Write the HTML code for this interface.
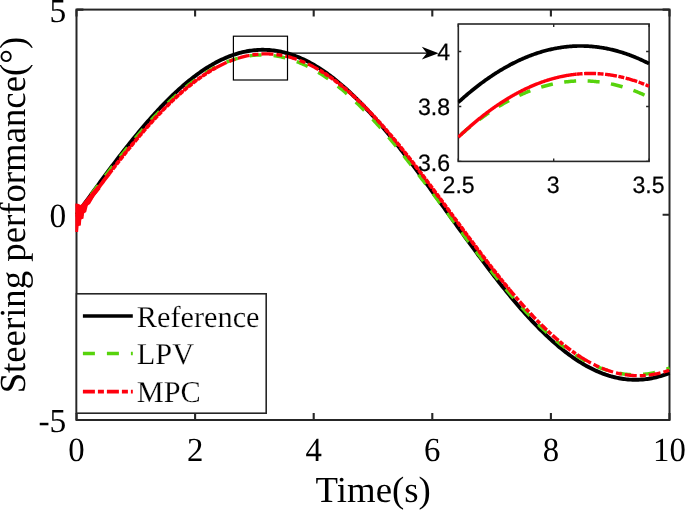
<!DOCTYPE html>
<html><head><meta charset="utf-8"><title>Steering performance</title>
<style>html,body{margin:0;padding:0;background:#fff;}body{width:685px;height:510px;overflow:hidden;font-family:"Liberation Sans",sans-serif;}svg{display:block;will-change:transform;}text{text-rendering:geometricPrecision;}</style>
</head><body>
<svg width="685" height="510" viewBox="0 0 685 510">
<rect x="0" y="0" width="685" height="510" fill="#fff"/>
<rect x="76.50" y="9.60" width="593.00" height="410.40" fill="none" stroke="#262626" stroke-width="2"/>
<path d="M76.50,420.00 v-6.90 M76.50,9.60 v6.90 M195.10,420.00 v-6.90 M195.10,9.60 v6.90 M313.70,420.00 v-6.90 M313.70,9.60 v6.90 M432.30,420.00 v-6.90 M432.30,9.60 v6.90 M550.90,420.00 v-6.90 M550.90,9.60 v6.90 M669.50,420.00 v-6.90 M669.50,9.60 v6.90 M76.50,420.00 h6.90 M669.50,420.00 h-6.90 M76.50,214.80 h6.90 M669.50,214.80 h-6.90 M76.50,9.60 h6.90 M669.50,9.60 h-6.90" stroke="#262626" stroke-width="2.1" fill="none"/>
<g font-family="Liberation Serif, serif" font-size="33.8px" fill="#000">
<text transform="translate(76.50,461.0) scale(0.97,1)" text-anchor="middle">0</text>
<text transform="translate(195.10,461.0) scale(0.97,1)" text-anchor="middle">2</text>
<text transform="translate(313.70,461.0) scale(0.97,1)" text-anchor="middle">4</text>
<text transform="translate(432.30,461.0) scale(0.97,1)" text-anchor="middle">6</text>
<text transform="translate(550.90,461.0) scale(0.97,1)" text-anchor="middle">8</text>
<text transform="translate(669.50,461.0) scale(0.97,1)" text-anchor="middle">10</text>
<text transform="translate(66.3,432.30) scale(0.99,1)" text-anchor="end">-5</text>
<text transform="translate(66.3,227.10) scale(0.99,1)" text-anchor="end">0</text>
<text transform="translate(66.3,21.90) scale(0.99,1)" text-anchor="end">5</text>
</g>
<text transform="translate(373.2,501.8)" text-anchor="middle" font-family="Liberation Serif, serif" font-size="36.8px" fill="#000">Time(s)</text>
<text transform="translate(25.2,215.1) rotate(-90)" text-anchor="middle" font-family="Liberation Serif, serif" font-size="36.75px" fill="#000">Steering performance(°)</text>
<path d="M76.50,214.80 L77.98,212.74 L79.47,210.68 L80.95,208.61 L82.43,206.55 L83.91,204.50 L85.39,202.44 L86.88,200.38 L88.36,198.33 L89.84,196.28 L91.33,194.23 L92.81,192.19 L94.29,190.15 L95.77,188.11 L97.25,186.08 L98.74,184.05 L100.22,182.02 L101.70,180.00 L103.19,177.99 L104.67,175.98 L106.15,173.98 L107.63,171.99 L109.12,170.00 L110.60,168.02 L112.08,166.04 L113.56,164.08 L115.05,162.12 L116.53,160.17 L118.01,158.23 L119.49,156.30 L120.97,154.37 L122.46,152.46 L123.94,150.55 L125.42,148.66 L126.91,146.77 L128.39,144.90 L129.87,143.04 L131.35,141.19 L132.84,139.35 L134.32,137.52 L135.80,135.70 L137.28,133.90 L138.76,132.11 L140.25,130.33 L141.73,128.57 L143.21,126.82 L144.69,125.08 L146.18,123.35 L147.66,121.64 L149.14,119.95 L150.62,118.27 L152.11,116.61 L153.59,114.96 L155.07,113.32 L156.56,111.70 L158.04,110.10 L159.52,108.52 L161.00,106.95 L162.49,105.40 L163.97,103.86 L165.45,102.34 L166.93,100.84 L168.41,99.36 L169.90,97.90 L171.38,96.45 L172.86,95.02 L174.34,93.61 L175.83,92.22 L177.31,90.85 L178.79,89.50 L180.28,88.17 L181.76,86.86 L183.24,85.57 L184.72,84.29 L186.20,83.04 L187.69,81.81 L189.17,80.60 L190.65,79.41 L192.13,78.25 L193.62,77.10 L195.10,75.97 L196.58,74.87 L198.06,73.79 L199.55,72.73 L201.03,71.69 L202.51,70.68 L204.00,69.68 L205.48,68.71 L206.96,67.77 L208.44,66.84 L209.93,65.94 L211.41,65.07 L212.89,64.21 L214.37,63.38 L215.85,62.57 L217.34,61.79 L218.82,61.03 L220.30,60.30 L221.79,59.59 L223.27,58.90 L224.75,58.24 L226.23,57.60 L227.71,56.98 L229.20,56.40 L230.68,55.83 L232.16,55.29 L233.65,54.78 L235.13,54.29 L236.61,53.82 L238.09,53.39 L239.57,52.97 L241.06,52.58 L242.54,52.22 L244.02,51.88 L245.50,51.57 L246.99,51.28 L248.47,51.02 L249.95,50.79 L251.44,50.58 L252.92,50.39 L254.40,50.23 L255.88,50.10 L257.37,49.99 L258.85,49.91 L260.33,49.85 L261.81,49.82 L263.30,49.82 L264.78,49.84 L266.26,49.89 L267.74,49.96 L269.23,50.06 L270.71,50.19 L272.19,50.34 L273.67,50.51 L275.15,50.71 L276.64,50.94 L278.12,51.19 L279.60,51.47 L281.09,51.78 L282.57,52.11 L284.05,52.46 L285.53,52.84 L287.01,53.25 L288.50,53.68 L289.98,54.13 L291.46,54.61 L292.94,55.12 L294.43,55.65 L295.91,56.21 L297.39,56.79 L298.88,57.39 L300.36,58.02 L301.84,58.68 L303.32,59.36 L304.81,60.06 L306.29,60.79 L307.77,61.54 L309.25,62.31 L310.74,63.11 L312.22,63.94 L313.70,64.78 L315.18,65.65 L316.67,66.55 L318.15,67.46 L319.63,68.40 L321.11,69.36 L322.60,70.35 L324.08,71.36 L325.56,72.39 L327.04,73.44 L328.52,74.51 L330.01,75.61 L331.49,76.73 L332.97,77.87 L334.45,79.03 L335.94,80.21 L337.42,81.41 L338.90,82.64 L340.38,83.88 L341.87,85.15 L343.35,86.43 L344.83,87.74 L346.31,89.06 L347.80,90.41 L349.28,91.77 L350.76,93.16 L352.25,94.56 L353.73,95.98 L355.21,97.42 L356.69,98.88 L358.18,100.36 L359.66,101.85 L361.14,103.36 L362.62,104.89 L364.10,106.44 L365.59,108.00 L367.07,109.58 L368.55,111.18 L370.03,112.79 L371.52,114.42 L373.00,116.06 L374.48,117.72 L375.97,119.40 L377.45,121.09 L378.93,122.79 L380.41,124.51 L381.90,126.24 L383.38,127.99 L384.86,129.75 L386.34,131.53 L387.82,133.31 L389.31,135.11 L390.79,136.92 L392.27,138.75 L393.75,140.58 L395.24,142.43 L396.72,144.29 L398.20,146.16 L399.69,148.04 L401.17,149.93 L402.65,151.83 L404.13,153.74 L405.62,155.66 L407.10,157.59 L408.58,159.53 L410.06,161.48 L411.55,163.44 L413.03,165.40 L414.51,167.37 L415.99,169.35 L417.48,171.34 L418.96,173.33 L420.44,175.33 L421.92,177.33 L423.40,179.35 L424.89,181.36 L426.37,183.38 L427.85,185.41 L429.33,187.44 L430.82,189.48 L432.30,191.52 L433.78,193.56 L435.26,195.61 L436.75,197.66 L438.23,199.71 L439.71,201.76 L441.20,203.82 L442.68,205.88 L444.16,207.94 L445.64,210.00 L447.12,212.06 L448.61,214.12 L450.09,216.19 L451.57,218.25 L453.05,220.31 L454.54,222.37 L456.02,224.43 L457.50,226.49 L458.99,228.54 L460.47,230.60 L461.95,232.65 L463.43,234.70 L464.92,236.74 L466.40,238.79 L467.88,240.83 L469.36,242.86 L470.85,244.89 L472.33,246.91 L473.81,248.93 L475.29,250.95 L476.77,252.96 L478.26,254.96 L479.74,256.96 L481.22,258.95 L482.70,260.93 L484.19,262.91 L485.67,264.88 L487.15,266.84 L488.64,268.79 L490.12,270.74 L491.60,272.67 L493.08,274.60 L494.56,276.52 L496.05,278.42 L497.53,280.32 L499.01,282.21 L500.50,284.09 L501.98,285.95 L503.46,287.81 L504.94,289.65 L506.43,291.48 L507.91,293.30 L509.39,295.11 L510.87,296.91 L512.36,298.69 L513.84,300.46 L515.32,302.21 L516.80,303.95 L518.29,305.68 L519.77,307.40 L521.25,309.10 L522.73,310.78 L524.21,312.45 L525.70,314.11 L527.18,315.74 L528.66,317.37 L530.14,318.98 L531.63,320.57 L533.11,322.14 L534.59,323.70 L536.08,325.24 L537.56,326.76 L539.04,328.27 L540.52,329.76 L542.00,331.23 L543.49,332.68 L544.97,334.11 L546.45,335.53 L547.94,336.92 L549.42,338.30 L550.90,339.66 L552.38,341.00 L553.87,342.31 L555.35,343.61 L556.83,344.89 L558.31,346.15 L559.79,347.39 L561.28,348.60 L562.76,349.80 L564.24,350.97 L565.73,352.13 L567.21,353.26 L568.69,354.37 L570.17,355.46 L571.65,356.53 L573.14,357.57 L574.62,358.59 L576.10,359.59 L577.58,360.57 L579.07,361.52 L580.55,362.46 L582.03,363.36 L583.52,364.25 L585.00,365.11 L586.48,365.95 L587.96,366.76 L589.44,367.56 L590.93,368.32 L592.41,369.07 L593.89,369.78 L595.38,370.48 L596.86,371.15 L598.34,371.80 L599.82,372.42 L601.31,373.01 L602.79,373.59 L604.27,374.13 L605.75,374.66 L607.23,375.15 L608.72,375.63 L610.20,376.07 L611.68,376.50 L613.17,376.89 L614.65,377.26 L616.13,377.61 L617.61,377.93 L619.10,378.23 L620.58,378.50 L622.06,378.74 L623.54,378.96 L625.02,379.15 L626.51,379.32 L627.99,379.46 L629.47,379.58 L630.96,379.67 L632.44,379.73 L633.92,379.77 L635.40,379.78 L636.88,379.77 L638.37,379.73 L639.85,379.66 L641.33,379.57 L642.82,379.46 L644.30,379.32 L645.78,379.15 L647.26,378.95 L648.75,378.74 L650.23,378.49 L651.71,378.22 L653.19,377.93 L654.67,377.60 L656.16,377.26 L657.64,376.89 L659.12,376.49 L660.61,376.07 L662.09,375.62 L663.57,375.15 L665.05,374.65 L666.53,374.12 L668.02,373.58 L669.50,373.00" stroke="#000" stroke-width="3.9" fill="none" stroke-linejoin="round"/>
<path d="M76.50,214.16 L77.98,212.16 L79.47,210.16 L80.95,208.17 L82.43,206.17 L83.91,204.18 L85.39,202.18 L86.88,200.19 L88.36,198.20 L89.84,196.21 L91.33,194.23 L92.81,192.25 L94.29,190.27 L95.77,188.30 L97.25,186.33 L98.74,184.37 L100.22,182.41 L101.70,180.45 L103.19,178.50 L104.67,176.56 L106.15,174.62 L107.63,172.69 L109.12,170.77 L110.60,168.85 L112.08,166.94 L113.56,165.03 L115.05,163.14 L116.53,161.25 L118.01,159.37 L119.49,157.50 L120.97,155.64 L122.46,153.79 L123.94,151.95 L125.42,150.11 L126.91,148.29 L128.39,146.48 L129.87,144.68 L131.35,142.89 L132.84,141.11 L134.32,139.34 L135.80,137.58 L137.28,135.84 L138.76,134.11 L140.25,132.39 L141.73,130.68 L143.21,128.99 L144.69,127.31 L146.18,125.64 L147.66,123.99 L149.14,122.35 L150.62,120.73 L152.11,119.12 L153.59,117.53 L155.07,115.95 L156.56,114.39 L158.04,112.84 L159.52,111.31 L161.00,109.79 L162.49,108.29 L163.97,106.81 L165.45,105.34 L166.93,103.90 L168.41,102.47 L169.90,101.05 L171.38,99.66 L172.86,98.28 L174.34,96.92 L175.83,95.58 L177.31,94.26 L178.79,92.95 L180.28,91.67 L181.76,90.40 L183.24,89.16 L184.72,87.93 L186.20,86.72 L187.69,85.54 L189.17,84.37 L190.65,83.22 L192.13,82.10 L193.62,80.99 L195.10,79.91 L196.58,78.85 L198.06,77.81 L199.55,76.79 L201.03,75.79 L202.51,74.81 L204.00,73.86 L205.48,72.92 L206.96,72.01 L208.44,71.13 L209.93,70.26 L211.41,69.42 L212.89,68.60 L214.37,67.80 L215.85,67.02 L217.34,66.27 L218.82,65.54 L220.30,64.84 L221.79,64.16 L223.27,63.50 L224.75,62.86 L226.23,62.25 L227.71,61.67 L229.20,61.10 L230.68,60.57 L232.16,60.05 L233.65,59.56 L235.13,59.09 L236.61,58.65 L238.09,58.23 L239.57,57.84 L241.06,57.47 L242.54,57.13 L244.02,56.81 L245.50,56.51 L246.99,56.24 L248.47,56.00 L249.95,55.78 L251.44,55.58 L252.92,55.41 L254.40,55.26 L255.88,55.14 L257.37,55.05 L258.85,54.98 L260.33,54.93 L261.81,54.91 L263.30,54.91 L264.78,54.94 L266.26,55.00 L267.74,55.08 L269.23,55.18 L270.71,55.31 L272.19,55.46 L273.67,55.64 L275.15,55.84 L276.64,56.07 L278.12,56.32 L279.60,56.60 L281.09,56.90 L282.57,57.23 L284.05,57.58 L285.53,57.96 L287.01,58.36 L288.50,58.79 L289.98,59.24 L291.46,59.71 L292.94,60.21 L294.43,60.73 L295.91,61.28 L297.39,61.85 L298.88,62.44 L300.36,63.06 L301.84,63.70 L303.32,64.37 L304.81,65.06 L306.29,65.77 L307.77,66.50 L309.25,67.26 L310.74,68.05 L312.22,68.85 L313.70,69.68 L315.18,70.53 L316.67,71.40 L318.15,72.30 L319.63,73.21 L321.11,74.15 L322.60,75.12 L324.08,76.10 L325.56,77.10 L327.04,78.13 L328.52,79.18 L330.01,80.25 L331.49,81.34 L332.97,82.45 L334.45,83.58 L335.94,84.73 L337.42,85.91 L338.90,87.10 L340.38,88.31 L341.87,89.54 L343.35,90.80 L344.83,92.07 L346.31,93.36 L347.80,94.67 L349.28,95.99 L350.76,97.34 L352.25,98.71 L353.73,100.09 L355.21,101.49 L356.69,102.91 L358.18,104.35 L359.66,105.80 L361.14,107.27 L362.62,108.76 L364.10,110.26 L365.59,111.78 L367.07,113.32 L368.55,114.87 L370.03,116.44 L371.52,118.02 L373.00,119.62 L374.48,121.24 L375.97,122.86 L377.45,124.51 L378.93,126.16 L380.41,127.83 L381.90,129.52 L383.38,131.21 L384.86,132.92 L386.34,134.65 L387.82,136.38 L389.31,138.13 L390.79,139.89 L392.27,141.66 L393.75,143.45 L395.24,145.24 L396.72,147.04 L398.20,148.86 L399.69,150.69 L401.17,152.52 L402.65,154.37 L404.13,156.22 L405.62,158.09 L407.10,159.96 L408.58,161.84 L410.06,163.73 L411.55,165.63 L413.03,167.53 L414.51,169.45 L415.99,171.37 L417.48,173.29 L418.96,175.23 L420.44,177.17 L421.92,179.11 L423.40,181.06 L424.89,183.02 L426.37,184.98 L427.85,186.95 L429.33,188.92 L430.82,190.89 L432.30,192.87 L433.78,194.85 L435.26,196.84 L436.75,198.82 L438.23,200.81 L439.71,202.80 L441.20,204.80 L442.68,206.79 L444.16,208.79 L445.64,210.79 L447.12,212.79 L448.61,214.79 L450.09,216.78 L451.57,218.78 L453.05,220.78 L454.54,222.78 L456.02,224.77 L457.50,226.77 L458.99,228.76 L460.47,230.75 L461.95,232.74 L463.43,234.72 L464.92,236.70 L466.40,238.68 L467.88,240.65 L469.36,242.62 L470.85,244.59 L472.33,246.55 L473.81,248.51 L475.29,250.46 L476.77,252.40 L478.26,254.34 L479.74,256.28 L481.22,258.20 L482.70,260.12 L484.19,262.04 L485.67,263.94 L487.15,265.84 L488.64,267.73 L490.12,269.61 L491.60,271.49 L493.08,273.35 L494.56,275.21 L496.05,277.05 L497.53,278.89 L499.01,280.71 L500.50,282.53 L501.98,284.33 L503.46,286.13 L504.94,287.91 L506.43,289.68 L507.91,291.44 L509.39,293.19 L510.87,294.93 L512.36,296.65 L513.84,298.36 L515.32,300.06 L516.80,301.74 L518.29,303.41 L519.77,305.07 L521.25,306.71 L522.73,308.34 L524.21,309.95 L525.70,311.55 L527.18,313.14 L528.66,314.70 L530.14,316.26 L531.63,317.79 L533.11,319.31 L534.59,320.82 L536.08,322.31 L537.56,323.78 L539.04,325.23 L540.52,326.67 L542.00,328.09 L543.49,329.49 L544.97,330.87 L546.45,332.24 L547.94,333.59 L549.42,334.91 L550.90,336.22 L552.38,337.51 L553.87,338.79 L555.35,340.04 L556.83,341.27 L558.31,342.48 L559.79,343.68 L561.28,344.85 L562.76,346.00 L564.24,347.13 L565.73,348.25 L567.21,349.34 L568.69,350.41 L570.17,351.45 L571.65,352.48 L573.14,353.49 L574.62,354.47 L576.10,355.43 L577.58,356.37 L579.07,357.29 L580.55,358.19 L582.03,359.06 L583.52,359.91 L585.00,360.74 L586.48,361.54 L587.96,362.32 L589.44,363.08 L590.93,363.82 L592.41,364.53 L593.89,365.22 L595.38,365.89 L596.86,366.53 L598.34,367.15 L599.82,367.74 L601.31,368.31 L602.79,368.86 L604.27,369.38 L605.75,369.88 L607.23,370.36 L608.72,370.81 L610.20,371.23 L611.68,371.63 L613.17,372.01 L614.65,372.36 L616.13,372.69 L617.61,372.99 L619.10,373.27 L620.58,373.52 L622.06,373.75 L623.54,373.96 L625.02,374.14 L626.51,374.29 L627.99,374.42 L629.47,374.52 L630.96,374.60 L632.44,374.66 L633.92,374.69 L635.40,374.69 L636.88,374.67 L638.37,374.62 L639.85,374.55 L641.33,374.46 L642.82,374.34 L644.30,374.19 L645.78,374.02 L647.26,373.83 L648.75,373.61 L650.23,373.36 L651.71,373.09 L653.19,372.80 L654.67,372.48 L656.16,372.13 L657.64,371.77 L659.12,371.37 L660.61,370.96 L662.09,370.51 L663.57,370.05 L665.05,369.56 L666.53,369.04 L668.02,368.50 L669.50,367.94" stroke="#57d30c" stroke-width="3.4" fill="none" stroke-dasharray="12 12"/>
<path d="M76.50,217.21 L77.49,215.88 L78.48,214.55 L79.47,213.22 L80.45,211.89 L81.44,210.56 L82.43,209.22 L83.42,207.89 L84.41,206.56 L85.39,205.23 L86.38,203.90 L87.37,202.58 L88.36,201.25 L89.35,199.92 L90.34,198.60 L91.33,197.27 L92.31,195.95 L93.30,194.63 L94.29,193.31 L95.28,191.99 L96.27,190.67 L97.25,189.35 L98.24,188.04 L99.23,186.73 L100.22,185.42 L101.21,184.11 L102.20,182.80 L103.19,181.50 L104.17,180.20 L105.16,178.90 L106.15,177.60 L107.14,176.31 L108.13,175.02 L109.12,173.73" stroke="#ff000e" stroke-width="3.8" fill="none" stroke-dasharray="none"/>
<path d="M109.12,173.73 L110.10,172.44 L111.09,171.16 L112.08,169.88 L113.07,168.60 L114.06,167.33 L115.05,166.06 L116.03,164.79 L117.02,163.52 L118.01,162.26 L119.00,161.01 L119.99,159.75 L120.97,158.50 L121.96,157.26 L122.95,156.02 L123.94,154.78 L124.93,153.55 L125.92,152.32 L126.91,151.09 L127.89,149.87 L128.88,148.65 L129.87,147.44 L130.86,146.24 L131.85,145.03 L132.84,143.84 L133.82,142.64 L134.81,141.46 L135.80,140.27 L136.79,139.10 L137.78,137.92 L138.76,136.76 L139.75,135.59 L140.74,134.44 L141.73,133.29 L142.72,132.14 L143.71,131.00 L144.69,129.87 L145.68,128.74 L146.67,127.62 L147.66,126.50 L148.65,125.39 L149.64,124.29 L150.62,123.19 L151.61,122.10 L152.60,121.01 L153.59,119.93 L154.58,118.86 L155.57,117.80 L156.56,116.74 L157.54,115.68 L158.53,114.64 L159.52,113.60 L160.51,112.57 L161.50,111.54 L162.49,110.53 L163.47,109.52 L164.46,108.51 L165.45,107.52 L166.44,106.53 L167.43,105.55 L168.41,104.57 L169.40,103.61 L170.39,102.65 L171.38,101.70 L172.37,100.75 L173.36,99.82 L174.34,98.89 L175.33,97.97 L176.32,97.06 L177.31,96.16 L178.30,95.26 L179.29,94.37 L180.28,93.50 L181.26,92.62 L182.25,91.76 L183.24,90.91 L184.23,90.06 L185.22,89.23 L186.20,88.40 L187.19,87.58 L188.18,86.77 L189.17,85.97 L190.16,85.17 L191.15,84.39 L192.14,83.61 L193.12,82.85 L194.11,82.09 L195.10,81.34 L196.09,80.60 L197.08,79.87 L198.06,79.15 L199.05,78.44 L200.04,77.74 L201.03,77.05 L202.02,76.36 L203.01,75.69 L204.00,75.03 L204.98,74.37 L205.97,73.73 L206.96,73.09 L207.95,72.47 L208.94,71.85 L209.93,71.24 L210.91,70.65 L211.90,70.06 L212.89,69.48 L213.88,68.92 L214.87,68.36 L215.85,67.82" stroke="#ff000e" stroke-width="2.3" fill="none"/>
<path d="M109.12,173.73 L110.10,172.44 L111.09,171.16 L112.08,169.88 L113.07,168.60 L114.06,167.33 L115.05,166.06 L116.03,164.79 L117.02,163.52 L118.01,162.26 L119.00,161.01 L119.99,159.75 L120.97,158.50 L121.96,157.26 L122.95,156.02 L123.94,154.78 L124.93,153.55 L125.92,152.32 L126.91,151.09 L127.89,149.87 L128.88,148.65 L129.87,147.44 L130.86,146.24 L131.85,145.03 L132.84,143.84 L133.82,142.64 L134.81,141.46 L135.80,140.27 L136.79,139.10 L137.78,137.92 L138.76,136.76 L139.75,135.59 L140.74,134.44 L141.73,133.29 L142.72,132.14 L143.71,131.00 L144.69,129.87 L145.68,128.74 L146.67,127.62 L147.66,126.50 L148.65,125.39 L149.64,124.29 L150.62,123.19 L151.61,122.10 L152.60,121.01 L153.59,119.93 L154.58,118.86 L155.57,117.80 L156.56,116.74 L157.54,115.68 L158.53,114.64 L159.52,113.60 L160.51,112.57 L161.50,111.54 L162.49,110.53 L163.47,109.52 L164.46,108.51 L165.45,107.52 L166.44,106.53 L167.43,105.55 L168.41,104.57 L169.40,103.61 L170.39,102.65 L171.38,101.70 L172.37,100.75 L173.36,99.82 L174.34,98.89 L175.33,97.97 L176.32,97.06 L177.31,96.16 L178.30,95.26 L179.29,94.37 L180.28,93.50 L181.26,92.62 L182.25,91.76 L183.24,90.91 L184.23,90.06 L185.22,89.23 L186.20,88.40 L187.19,87.58 L188.18,86.77 L189.17,85.97 L190.16,85.17 L191.15,84.39 L192.14,83.61 L193.12,82.85 L194.11,82.09 L195.10,81.34 L196.09,80.60 L197.08,79.87 L198.06,79.15 L199.05,78.44 L200.04,77.74 L201.03,77.05 L202.02,76.36 L203.01,75.69 L204.00,75.03 L204.98,74.37 L205.97,73.73 L206.96,73.09 L207.95,72.47 L208.94,71.85 L209.93,71.24 L210.91,70.65 L211.90,70.06 L212.89,69.48 L213.88,68.92 L214.87,68.36 L215.85,67.82" stroke="#ff000e" stroke-width="3.8" fill="none" stroke-dasharray="4.6 1.3"/>
<path d="M215.85,67.82 L216.85,67.27 L217.85,66.74 L218.85,66.22 L219.85,65.71 L220.84,65.21 L221.84,64.72 L222.84,64.24 L223.84,63.77 L224.84,63.32 L225.83,62.87 L226.83,62.43 L227.83,62.01 L228.83,61.59 L229.82,61.19 L230.82,60.79 L231.82,60.41 L232.82,60.04 L233.82,59.67 L234.81,59.32 L235.81,58.98 L236.81,58.65 L237.81,58.34 L238.81,58.03 L239.80,57.73 L240.80,57.45 L241.80,57.17 L242.80,56.91 L243.79,56.66 L244.79,56.42 L245.79,56.19 L246.79,55.97 L247.79,55.76 L248.78,55.56 L249.78,55.38 L250.78,55.20 L251.78,55.04 L252.77,54.89 L253.77,54.74 L254.77,54.61 L255.77,54.49 L256.77,54.39 L257.76,54.29 L258.76,54.20 L259.76,54.13 L260.76,54.07 L261.76,54.01 L262.75,53.97 L263.75,53.95 L264.75,53.93 L265.75,53.92 L266.74,53.93 L267.74,53.95 L268.74,53.97 L269.74,54.01 L270.74,54.06 L271.73,54.13 L272.73,54.20 L273.73,54.29 L274.73,54.38 L275.73,54.49 L276.72,54.61 L277.72,54.74 L278.72,54.88 L279.72,55.04 L280.71,55.20 L281.71,55.38 L282.71,55.56 L283.71,55.76 L284.71,55.97 L285.70,56.19 L286.70,56.42 L287.70,56.67 L288.70,56.92 L289.69,57.19 L290.69,57.46 L291.69,57.75 L292.69,58.05 L293.69,58.36 L294.68,58.68 L295.68,59.02 L296.68,59.36 L297.68,59.71 L298.68,60.08 L299.67,60.46 L300.67,60.84 L301.67,61.24 L302.67,61.65 L303.66,62.07 L304.66,62.50 L305.66,62.94 L306.66,63.39 L307.66,63.86 L308.65,64.33 L309.65,64.81 L310.65,65.31 L311.65,65.81 L312.65,66.33 L313.64,66.86 L314.64,67.39 L315.64,67.94 L316.64,68.50 L317.63,69.07 L318.63,69.65 L319.63,70.23" stroke="#ff000e" stroke-width="3.3" fill="none" stroke-dasharray="12 3 6 3"/>
<path d="M319.63,70.23 L320.62,70.83 L321.61,71.43 L322.59,72.04 L323.58,72.67 L324.57,73.30 L325.56,73.94 L326.55,74.60 L327.54,75.26 L328.52,75.93 L329.51,76.61 L330.50,77.30 L331.49,78.00 L332.48,78.71 L333.47,79.43 L334.45,80.16 L335.44,80.90 L336.43,81.65 L337.42,82.41 L338.41,83.17 L339.40,83.95 L340.38,84.73 L341.37,85.53 L342.36,86.33 L343.35,87.14 L344.34,87.96 L345.33,88.79 L346.31,89.63 L347.30,90.47 L348.29,91.33 L349.28,92.19 L350.27,93.06 L351.26,93.94 L352.25,94.83 L353.23,95.73 L354.22,96.64 L355.21,97.55 L356.20,98.47 L357.19,99.40 L358.18,100.34 L359.16,101.29 L360.15,102.24 L361.14,103.20 L362.13,104.17 L363.12,105.15 L364.10,106.13 L365.09,107.13 L366.08,108.13 L367.07,109.13 L368.06,110.15 L369.05,111.17 L370.03,112.20 L371.02,113.23 L372.01,114.28 L373.00,115.33 L373.99,116.39 L374.98,117.45 L375.97,118.52 L376.95,119.60 L377.94,120.68 L378.93,121.77 L379.92,122.87 L380.91,123.97 L381.89,125.08 L382.88,126.20 L383.87,127.32 L384.86,128.45 L385.85,129.58 L386.84,130.72 L387.82,131.87 L388.81,133.02 L389.80,134.18 L390.79,135.34 L391.78,136.51 L392.77,137.68 L393.75,138.86 L394.74,140.05 L395.73,141.24 L396.72,142.43 L397.71,143.63 L398.70,144.83 L399.68,146.04 L400.67,147.26 L401.66,148.48 L402.65,149.70 L403.64,150.93 L404.63,152.16 L405.62,153.40 L406.60,154.64 L407.59,155.89 L408.58,157.14 L409.57,158.39 L410.56,159.65 L411.54,160.91 L412.53,162.17 L413.52,163.44 L414.51,164.71 L415.50,165.99 L416.49,167.27 L417.48,168.55 L418.46,169.84 L419.45,171.13 L420.44,172.42 L421.43,173.71 L422.42,175.01 L423.40,176.31 L424.39,177.61 L425.38,178.92 L426.37,180.23 L427.36,181.54 L428.35,182.85 L429.33,184.17 L430.32,185.48 L431.31,186.80 L432.30,188.12 L433.29,189.45 L434.28,190.77 L435.26,192.10 L436.25,193.43 L437.24,194.75 L438.23,196.09 L439.22,197.42 L440.21,198.75 L441.20,200.09 L442.18,201.42 L443.17,202.76 L444.16,204.09 L445.15,205.43 L446.14,206.77 L447.12,208.11 L448.11,209.45 L449.10,210.79 L450.09,212.13 L451.08,213.47 L452.07,214.81 L453.05,216.15 L454.04,217.49 L455.03,218.83 L456.02,220.17 L457.01,221.51 L458.00,222.85 L458.98,224.19 L459.97,225.53 L460.96,226.87 L461.95,228.20 L462.94,229.54 L463.93,230.87 L464.92,232.21 L465.90,233.54 L466.89,234.87 L467.88,236.20 L468.87,237.53 L469.86,238.85 L470.85,240.18 L471.83,241.50 L472.82,242.82 L473.81,244.14 L474.80,245.46 L475.79,246.77 L476.77,248.09 L477.76,249.40 L478.75,250.70 L479.74,252.01 L480.73,253.31 L481.72,254.61 L482.70,255.91 L483.69,257.21 L484.68,258.50 L485.67,259.79 L486.66,261.07 L487.65,262.35 L488.63,263.63 L489.62,264.91 L490.61,266.18 L491.60,267.45 L492.59,268.71 L493.58,269.98 L494.56,271.23 L495.55,272.49 L496.54,273.74 L497.53,274.98 L498.52,276.22 L499.51,277.46 L500.50,278.69 L501.48,279.92 L502.47,281.14 L503.46,282.36 L504.45,283.58 L505.44,284.79 L506.43,285.99 L507.41,287.19 L508.40,288.39 L509.39,289.58" stroke="#ff000e" stroke-width="2.3" fill="none"/>
<path d="M319.63,70.23 L320.62,70.83 L321.61,71.43 L322.59,72.04 L323.58,72.67 L324.57,73.30 L325.56,73.94 L326.55,74.60 L327.54,75.26 L328.52,75.93 L329.51,76.61 L330.50,77.30 L331.49,78.00 L332.48,78.71 L333.47,79.43 L334.45,80.16 L335.44,80.90 L336.43,81.65 L337.42,82.41 L338.41,83.17 L339.40,83.95 L340.38,84.73 L341.37,85.53 L342.36,86.33 L343.35,87.14 L344.34,87.96 L345.33,88.79 L346.31,89.63 L347.30,90.47 L348.29,91.33 L349.28,92.19 L350.27,93.06 L351.26,93.94 L352.25,94.83 L353.23,95.73 L354.22,96.64 L355.21,97.55 L356.20,98.47 L357.19,99.40 L358.18,100.34 L359.16,101.29 L360.15,102.24 L361.14,103.20 L362.13,104.17 L363.12,105.15 L364.10,106.13 L365.09,107.13 L366.08,108.13 L367.07,109.13 L368.06,110.15 L369.05,111.17 L370.03,112.20 L371.02,113.23 L372.01,114.28 L373.00,115.33 L373.99,116.39 L374.98,117.45 L375.97,118.52 L376.95,119.60 L377.94,120.68 L378.93,121.77 L379.92,122.87 L380.91,123.97 L381.89,125.08 L382.88,126.20 L383.87,127.32 L384.86,128.45 L385.85,129.58 L386.84,130.72 L387.82,131.87 L388.81,133.02 L389.80,134.18 L390.79,135.34 L391.78,136.51 L392.77,137.68 L393.75,138.86 L394.74,140.05 L395.73,141.24 L396.72,142.43 L397.71,143.63 L398.70,144.83 L399.68,146.04 L400.67,147.26 L401.66,148.48 L402.65,149.70 L403.64,150.93 L404.63,152.16 L405.62,153.40 L406.60,154.64 L407.59,155.89 L408.58,157.14 L409.57,158.39 L410.56,159.65 L411.54,160.91 L412.53,162.17 L413.52,163.44 L414.51,164.71 L415.50,165.99 L416.49,167.27 L417.48,168.55 L418.46,169.84 L419.45,171.13 L420.44,172.42 L421.43,173.71 L422.42,175.01 L423.40,176.31 L424.39,177.61 L425.38,178.92 L426.37,180.23 L427.36,181.54 L428.35,182.85 L429.33,184.17 L430.32,185.48 L431.31,186.80 L432.30,188.12 L433.29,189.45 L434.28,190.77 L435.26,192.10 L436.25,193.43 L437.24,194.75 L438.23,196.09 L439.22,197.42 L440.21,198.75 L441.20,200.09 L442.18,201.42 L443.17,202.76 L444.16,204.09 L445.15,205.43 L446.14,206.77 L447.12,208.11 L448.11,209.45 L449.10,210.79 L450.09,212.13 L451.08,213.47 L452.07,214.81 L453.05,216.15 L454.04,217.49 L455.03,218.83 L456.02,220.17 L457.01,221.51 L458.00,222.85 L458.98,224.19 L459.97,225.53 L460.96,226.87 L461.95,228.20 L462.94,229.54 L463.93,230.87 L464.92,232.21 L465.90,233.54 L466.89,234.87 L467.88,236.20 L468.87,237.53 L469.86,238.85 L470.85,240.18 L471.83,241.50 L472.82,242.82 L473.81,244.14 L474.80,245.46 L475.79,246.77 L476.77,248.09 L477.76,249.40 L478.75,250.70 L479.74,252.01 L480.73,253.31 L481.72,254.61 L482.70,255.91 L483.69,257.21 L484.68,258.50 L485.67,259.79 L486.66,261.07 L487.65,262.35 L488.63,263.63 L489.62,264.91 L490.61,266.18 L491.60,267.45 L492.59,268.71 L493.58,269.98 L494.56,271.23 L495.55,272.49 L496.54,273.74 L497.53,274.98 L498.52,276.22 L499.51,277.46 L500.50,278.69 L501.48,279.92 L502.47,281.14 L503.46,282.36 L504.45,283.58 L505.44,284.79 L506.43,285.99 L507.41,287.19 L508.40,288.39 L509.39,289.58" stroke="#ff000e" stroke-width="3.8" fill="none" stroke-dasharray="4.6 1.3"/>
<path d="M509.39,289.58 L510.38,290.76 L511.37,291.94 L512.36,293.11 L513.34,294.28 L514.33,295.44 L515.32,296.60 L516.31,297.75 L517.30,298.90 L518.29,300.04 L519.27,301.17 L520.26,302.30 L521.25,303.42 L522.24,304.54 L523.23,305.65 L524.21,306.75 L525.20,307.85 L526.19,308.94 L527.18,310.02 L528.17,311.10 L529.16,312.17 L530.14,313.23 L531.13,314.29 L532.12,315.34 L533.11,316.38 L534.10,317.42 L535.09,318.45 L536.08,319.47 L537.06,320.48 L538.05,321.49 L539.04,322.49 L540.03,323.48 L541.02,324.47 L542.00,325.45 L542.99,326.41 L543.98,327.38 L544.97,328.33 L545.96,329.28 L546.95,330.21 L547.94,331.14 L548.92,332.07 L549.91,332.98 L550.90,333.89 L551.89,334.78 L552.88,335.67 L553.87,336.55 L554.85,337.42 L555.84,338.29 L556.83,339.14 L557.82,339.99 L558.81,340.83 L559.79,341.66 L560.78,342.48 L561.77,343.29 L562.76,344.09 L563.75,344.88 L564.74,345.67 L565.73,346.44 L566.71,347.21 L567.70,347.96 L568.69,348.71 L569.68,349.45 L570.67,350.18 L571.65,350.90 L572.64,351.61 L573.63,352.31 L574.62,353.00 L575.61,353.68 L576.60,354.35 L577.58,355.02 L578.57,355.67 L579.56,356.31 L580.55,356.94" stroke="#ff000e" stroke-width="3.6" fill="none" stroke-dasharray="8 1.6 4.5 1.6"/>
<path d="M580.55,356.94 L581.54,357.57 L582.53,358.18 L583.52,358.78 L584.50,359.38 L585.49,359.96 L586.48,360.53 L587.47,361.09 L588.46,361.65 L589.44,362.19 L590.43,362.72 L591.42,363.24 L592.41,363.76 L593.40,364.26 L594.39,364.75 L595.38,365.23 L596.36,365.70 L597.35,366.16 L598.34,366.61 L599.33,367.05 L600.32,367.47 L601.31,367.89 L602.29,368.30 L603.28,368.69 L604.27,369.08 L605.26,369.45 L606.25,369.82 L607.23,370.17 L608.22,370.51 L609.21,370.84 L610.20,371.17 L611.19,371.47 L612.18,371.77 L613.17,372.06 L614.15,372.34 L615.14,372.61 L616.13,372.86 L617.12,373.10 L618.11,373.34 L619.10,373.56 L620.08,373.77 L621.07,373.97 L622.06,374.16 L623.05,374.34 L624.04,374.51 L625.02,374.66 L626.01,374.81 L627.00,374.94 L627.99,375.06 L628.98,375.17 L629.97,375.27 L630.96,375.36 L631.94,375.44 L632.93,375.51 L633.92,375.56 L634.91,375.61 L635.90,375.64 L636.88,375.66 L637.87,375.68 L638.86,375.68 L639.85,375.66 L640.84,375.64 L641.83,375.61 L642.82,375.56 L643.80,375.51 L644.79,375.44 L645.78,375.36 L646.77,375.27 L647.76,375.17 L648.75,375.06 L649.73,374.94 L650.72,374.80 L651.71,374.66 L652.70,374.50 L653.69,374.33 L654.67,374.16 L655.66,373.97 L656.65,373.77 L657.64,373.55 L658.63,373.33 L659.62,373.10 L660.61,372.85 L661.59,372.60 L662.58,372.33 L663.57,372.05 L664.56,371.77 L665.55,371.47 L666.53,371.16 L667.52,370.84 L668.51,370.50 L669.50,370.16" stroke="#ff000e" stroke-width="3.3" fill="none" stroke-dasharray="12 3 6 3"/>
<polygon points="75.3,203.4 78,203.8 80.8,205 82.9,202.8 90.5,193.6 97,186 100.5,189 94.8,195.8 90,203.9 87.8,205.5 86.2,212 84,213.6 83.5,218.4 81.3,219.5 80.8,225.5 78.6,226 78.1,231.9 75.3,232" fill="#ff000e"/>
<rect x="233.4" y="36.2" width="54.1" height="43.8" fill="none" stroke="#000" stroke-width="1.2"/>
<path d="M287.5,53.2 H428" stroke="#000" stroke-width="1.2" fill="none"/>
<path d="M438.6,53.2 L421.8,46.8 L426.8,53.2 L421.8,59.6 Z" fill="#000"/>
<rect x="458.30" y="24.00" width="190.80" height="137.40" fill="#fff" stroke="#262626" stroke-width="1.6"/>
<path d="M458.30,161.40 v-3.00 M458.30,24.00 v3.00 M553.70,161.40 v-3.00 M553.70,24.00 v3.00 M649.10,161.40 v-3.00 M649.10,24.00 v3.00 M458.30,161.40 h3.00 M649.10,161.40 h-3.00 M458.30,106.44 h3.00 M649.10,106.44 h-3.00 M458.30,51.48 h3.00 M649.10,51.48 h-3.00" stroke="#262626" stroke-width="1.4" fill="none"/>
<g font-family="Liberation Sans, sans-serif" font-size="23.8px" fill="#000" stroke="#000" stroke-width="0.25">
<text transform="translate(458.60,193.4) scale(0.97,1)" text-anchor="middle">2.5</text>
<text transform="translate(553.10,193.4) scale(0.97,1)" text-anchor="middle">3</text>
<text transform="translate(648.50,193.4) scale(0.97,1)" text-anchor="middle">3.5</text>
<text transform="translate(450.0,171.10) scale(0.97,1)" text-anchor="end">3.6</text>
<text transform="translate(450.0,115.24) scale(0.97,1)" text-anchor="end">3.8</text>
<text transform="translate(450.0,60.48) scale(0.97,1)" text-anchor="end">4</text>
</g>
<clipPath id="ic"><rect x="457.80" y="24.00" width="192.00" height="137.40"/></clipPath>
<g clip-path="url(#ic)">
<path d="M458.30,102.34 L459.25,101.47 L460.21,100.61 L461.16,99.76 L462.12,98.91 L463.07,98.07 L464.02,97.23 L464.98,96.41 L465.93,95.58 L466.89,94.77 L467.84,93.96 L468.79,93.16 L469.75,92.36 L470.70,91.58 L471.66,90.79 L472.61,90.02 L473.56,89.25 L474.52,88.49 L475.47,87.73 L476.43,86.98 L477.38,86.24 L478.33,85.51 L479.29,84.78 L480.24,84.05 L481.20,83.34 L482.15,82.63 L483.10,81.93 L484.06,81.23 L485.01,80.54 L485.97,79.86 L486.92,79.19 L487.87,78.52 L488.83,77.86 L489.78,77.20 L490.74,76.55 L491.69,75.91 L492.64,75.28 L493.60,74.65 L494.55,74.03 L495.51,73.41 L496.46,72.80 L497.41,72.20 L498.37,71.61 L499.32,71.02 L500.28,70.44 L501.23,69.86 L502.18,69.29 L503.14,68.73 L504.09,68.18 L505.05,67.63 L506.00,67.09 L506.95,66.56 L507.91,66.03 L508.86,65.51 L509.82,65.00 L510.77,64.49 L511.72,63.99 L512.68,63.50 L513.63,63.01 L514.59,62.53 L515.54,62.06 L516.49,61.59 L517.45,61.13 L518.40,60.68 L519.36,60.23 L520.31,59.80 L521.26,59.36 L522.22,58.94 L523.17,58.52 L524.13,58.11 L525.08,57.70 L526.03,57.31 L526.99,56.92 L527.94,56.53 L528.90,56.15 L529.85,55.78 L530.80,55.42 L531.76,55.06 L532.71,54.71 L533.67,54.37 L534.62,54.03 L535.57,53.70 L536.53,53.38 L537.48,53.07 L538.44,52.76 L539.39,52.46 L540.34,52.16 L541.30,51.87 L542.25,51.59 L543.21,51.32 L544.16,51.05 L545.11,50.79 L546.07,50.53 L547.02,50.29 L547.98,50.05 L548.93,49.81 L549.88,49.59 L550.84,49.37 L551.79,49.16 L552.75,48.95 L553.70,48.75 L554.65,48.56 L555.61,48.37 L556.56,48.20 L557.52,48.02 L558.47,47.86 L559.42,47.70 L560.38,47.55 L561.33,47.41 L562.29,47.27 L563.24,47.14 L564.19,47.02 L565.15,46.90 L566.10,46.79 L567.06,46.69 L568.01,46.60 L568.96,46.51 L569.92,46.43 L570.87,46.35 L571.83,46.28 L572.78,46.22 L573.73,46.17 L574.69,46.12 L575.64,46.08 L576.60,46.05 L577.55,46.02 L578.50,46.00 L579.46,45.99 L580.41,45.98 L581.37,45.99 L582.32,45.99 L583.27,46.01 L584.23,46.03 L585.18,46.06 L586.14,46.10 L587.09,46.14 L588.04,46.19 L589.00,46.24 L589.95,46.31 L590.91,46.38 L591.86,46.46 L592.81,46.54 L593.77,46.63 L594.72,46.73 L595.68,46.83 L596.63,46.94 L597.58,47.06 L598.54,47.19 L599.49,47.32 L600.45,47.46 L601.40,47.61 L602.35,47.76 L603.31,47.92 L604.26,48.09 L605.22,48.26 L606.17,48.44 L607.12,48.63 L608.08,48.82 L609.03,49.02 L609.99,49.23 L610.94,49.45 L611.89,49.67 L612.85,49.90 L613.80,50.13 L614.76,50.38 L615.71,50.63 L616.66,50.88 L617.62,51.15 L618.57,51.42 L619.53,51.69 L620.48,51.98 L621.43,52.27 L622.39,52.56 L623.34,52.87 L624.30,53.18 L625.25,53.50 L626.20,53.82 L627.16,54.16 L628.11,54.49 L629.07,54.84 L630.02,55.19 L630.97,55.55 L631.93,55.92 L632.88,56.29 L633.84,56.67 L634.79,57.06 L635.74,57.45 L636.70,57.85 L637.65,58.26 L638.61,58.67 L639.56,59.09 L640.51,59.52 L641.47,59.95 L642.42,60.40 L643.38,60.84 L644.33,61.30 L645.28,61.76 L646.24,62.23 L647.19,62.70 L648.15,63.19 L649.10,63.67" stroke="#000" stroke-width="3.7" fill="none"/>
<path d="M458.30,136.89 L459.25,136.03 L460.21,135.19 L461.16,134.35 L462.12,133.52 L463.07,132.69 L464.02,131.88 L464.98,131.06 L465.93,130.26 L466.89,129.46 L467.84,128.66 L468.79,127.88 L469.75,127.10 L470.70,126.32 L471.66,125.55 L472.61,124.79 L473.56,124.04 L474.52,123.29 L475.47,122.55 L476.43,121.81 L477.38,121.08 L478.33,120.36 L479.29,119.64 L480.24,118.93 L481.20,118.23 L482.15,117.53 L483.10,116.84 L484.06,116.15 L485.01,115.48 L485.97,114.80 L486.92,114.14 L487.87,113.48 L488.83,112.83 L489.78,112.18 L490.74,111.55 L491.69,110.91 L492.64,110.29 L493.60,109.67 L494.55,109.05 L495.51,108.45 L496.46,107.85 L497.41,107.25 L498.37,106.67 L499.32,106.09 L500.28,105.51 L501.23,104.95 L502.18,104.39 L503.14,103.83 L504.09,103.28 L505.05,102.74 L506.00,102.21 L506.95,101.68 L507.91,101.16 L508.86,100.64 L509.82,100.13 L510.77,99.63 L511.72,99.14 L512.68,98.65 L513.63,98.17 L514.59,97.69 L515.54,97.22 L516.49,96.76 L517.45,96.30 L518.40,95.86 L519.36,95.41 L520.31,94.98 L521.26,94.55 L522.22,94.12 L523.17,93.71 L524.13,93.30 L525.08,92.90 L526.03,92.50 L526.99,92.11 L527.94,91.73 L528.90,91.35 L529.85,90.98 L530.80,90.62 L531.76,90.26 L532.71,89.91 L533.67,89.57 L534.62,89.23 L535.57,88.90 L536.53,88.58 L537.48,88.26 L538.44,87.95 L539.39,87.65 L540.34,87.35 L541.30,87.06 L542.25,86.78 L543.21,86.50 L544.16,86.23 L545.11,85.96 L546.07,85.71 L547.02,85.46 L547.98,85.21 L548.93,84.98 L549.88,84.75 L550.84,84.52 L551.79,84.30 L552.75,84.09 L553.70,83.89 L554.65,83.69 L555.61,83.50 L556.56,83.32 L557.52,83.14 L558.47,82.97 L559.42,82.81 L560.38,82.65 L561.33,82.50 L562.29,82.36 L563.24,82.22 L564.19,82.09 L565.15,81.97 L566.10,81.85 L567.06,81.74 L568.01,81.64 L568.96,81.54 L569.92,81.45 L570.87,81.36 L571.83,81.29 L572.78,81.22 L573.73,81.15 L574.69,81.10 L575.64,81.05 L576.60,81.00 L577.55,80.97 L578.50,80.94 L579.46,80.91 L580.41,80.90 L581.37,80.89 L582.32,80.88 L583.27,80.89 L584.23,80.90 L585.18,80.91 L586.14,80.94 L587.09,80.97 L588.04,81.00 L589.00,81.05 L589.95,81.10 L590.91,81.15 L591.86,81.22 L592.81,81.29 L593.77,81.37 L594.72,81.45 L595.68,81.54 L596.63,81.64 L597.58,81.74 L598.54,81.85 L599.49,81.97 L600.45,82.09 L601.40,82.22 L602.35,82.36 L603.31,82.50 L604.26,82.65 L605.22,82.81 L606.17,82.97 L607.12,83.14 L608.08,83.32 L609.03,83.50 L609.99,83.69 L610.94,83.89 L611.89,84.10 L612.85,84.31 L613.80,84.52 L614.76,84.75 L615.71,84.98 L616.66,85.21 L617.62,85.46 L618.57,85.71 L619.53,85.96 L620.48,86.23 L621.43,86.50 L622.39,86.78 L623.34,87.06 L624.30,87.35 L625.25,87.65 L626.20,87.95 L627.16,88.26 L628.11,88.58 L629.07,88.90 L630.02,89.23 L630.97,89.57 L631.93,89.91 L632.88,90.26 L633.84,90.62 L634.79,90.98 L635.74,91.35 L636.70,91.73 L637.65,92.11 L638.61,92.50 L639.56,92.90 L640.51,93.30 L641.47,93.71 L642.42,94.13 L643.38,94.55 L644.33,94.98 L645.28,95.41 L646.24,95.86 L647.19,96.31 L648.15,96.76 L649.10,97.22" stroke="#57d30c" stroke-width="3.5" fill="none" stroke-dasharray="12 11.5" stroke-dashoffset="19.97"/>
<path d="M458.30,137.23 L458.89,136.66 L459.48,136.10 L460.07,135.54 L460.67,134.98 L461.26,134.43 L461.85,133.88 L462.44,133.33 L463.03,132.78 L463.62,132.23 L464.21,131.69 L464.81,131.15 L465.40,130.61 L465.99,130.08 L466.58,129.55 L467.17,129.01 L467.76,128.49 L468.36,127.96 L468.95,127.44 L469.54,126.92 L470.13,126.40 L470.72,125.88 L471.31,125.37 L471.90,124.86 L472.50,124.35 L473.09,123.84 L473.68,123.34 L474.27,122.84 L474.86,122.34 L475.45,121.85 L476.04,121.35 L476.64,120.86 L477.23,120.37 L477.82,119.89 L478.41,119.40 L479.00,118.92 L479.59,118.44 L480.18,117.97 L480.78,117.49 L481.37,117.02 L481.96,116.55 L482.55,116.09 L483.14,115.62 L483.73,115.16 L484.33,114.70 L484.92,114.25 L485.51,113.79 L486.10,113.34 L486.69,112.89 L487.28,112.45 L487.87,112.00 L488.47,111.56 L489.06,111.12 L489.65,110.69 L490.24,110.25 L490.83,109.82 L491.42,109.39 L492.01,108.97 L492.61,108.54 L493.20,108.12 L493.79,107.70 L494.38,107.29 L494.97,106.87 L495.56,106.46 L496.15,106.05 L496.75,105.64 L497.34,105.24 L497.93,104.84 L498.52,104.44 L499.11,104.04 L499.70,103.65 L500.30,103.26 L500.89,102.87 L501.48,102.48 L502.07,102.10 L502.66,101.72 L503.25,101.34 L503.84,100.96 L504.44,100.59 L505.03,100.22 L505.62,99.85 L506.21,99.49 L506.80,99.12 L507.39,98.76 L507.98,98.40 L508.58,98.05 L509.17,97.69 L509.76,97.34 L510.35,96.99 L510.94,96.65 L511.53,96.30 L512.12,95.96 L512.72,95.63 L513.31,95.29 L513.90,94.96 L514.49,94.63 L515.08,94.30 L515.67,93.97 L516.27,93.65 L516.86,93.33 L517.45,93.01 L518.04,92.70 L518.63,92.38 L519.22,92.07 L519.81,91.77 L520.41,91.46 L521.00,91.16 L521.59,90.86 L522.18,90.56 L522.77,90.26 L523.36,89.97 L523.95,89.68 L524.55,89.40 L525.14,89.11 L525.73,88.83 L526.32,88.55 L526.91,88.27 L527.50,88.00 L528.09,87.72 L528.69,87.45 L529.28,87.19 L529.87,86.92 L530.46,86.66 L531.05,86.40 L531.64,86.15 L532.24,85.89 L532.83,85.64 L533.42,85.39 L534.01,85.14 L534.60,84.90 L535.19,84.66 L535.78,84.42 L536.38,84.18 L536.97,83.95 L537.56,83.72 L538.15,83.49 L538.74,83.26 L539.33,83.04 L539.92,82.82 L540.52,82.60 L541.11,82.39 L541.70,82.17 L542.29,81.96 L542.88,81.75 L543.47,81.55 L544.06,81.35 L544.66,81.15 L545.25,80.95 L545.84,80.75 L546.43,80.56 L547.02,80.37 L547.61,80.18 L548.20,80.00 L548.80,79.82 L549.39,79.64 L549.98,79.46 L550.57,79.28 L551.16,79.11 L551.75,78.94 L552.35,78.78 L552.94,78.61 L553.53,78.45 L554.12,78.29 L554.71,78.13 L555.30,77.98 L555.89,77.83 L556.49,77.68 L557.08,77.53 L557.67,77.39 L558.26,77.25 L558.85,77.11 L559.44,76.97 L560.03,76.84 L560.63,76.71 L561.22,76.58 L561.81,76.46 L562.40,76.33 L562.99,76.21 L563.58,76.09 L564.17,75.98 L564.77,75.87 L565.36,75.76 L565.95,75.65 L566.54,75.54 L567.13,75.44 L567.72,75.34 L568.32,75.24 L568.91,75.15 L569.50,75.06 L570.09,74.97 L570.68,74.88 L571.27,74.80 L571.86,74.71 L572.46,74.64 L573.05,74.56 L573.64,74.49 L574.23,74.41 L574.82,74.34 L575.41,74.28 L576.00,74.22 L576.60,74.15" stroke="#ff000e" stroke-width="3.4" fill="none"/>
<path d="M576.60,74.15 L577.32,74.08 L578.05,74.02 L578.77,73.95 L579.50,73.89 L580.22,73.84 L580.95,73.78 L581.67,73.74 L582.40,73.69 L583.12,73.65 L583.85,73.62 L584.57,73.58 L585.30,73.55 L586.02,73.53 L586.75,73.51 L587.47,73.49 L588.20,73.48 L588.92,73.47 L589.65,73.47 L590.37,73.46 L591.10,73.47 L591.82,73.47 L592.55,73.48 L593.27,73.50 L594.00,73.52 L594.72,73.54 L595.45,73.56 L596.17,73.59 L596.90,73.63 L597.62,73.66 L598.35,73.71 L599.07,73.75 L599.80,73.80 L600.52,73.85 L601.25,73.91 L601.97,73.97 L602.70,74.04 L603.42,74.11 L604.15,74.18 L604.87,74.25 L605.60,74.33 L606.32,74.42 L607.05,74.51 L607.77,74.60 L608.50,74.69 L609.22,74.79 L609.95,74.90 L610.67,75.01 L611.40,75.12 L612.12,75.23 L612.85,75.35 L613.57,75.47 L614.30,75.60 L615.02,75.73 L615.75,75.87 L616.47,76.01 L617.20,76.15 L617.92,76.29 L618.65,76.44 L619.37,76.60 L620.10,76.76 L620.82,76.92 L621.55,77.08 L622.27,77.25 L623.00,77.43 L623.72,77.60 L624.45,77.79 L625.17,77.97 L625.90,78.16 L626.62,78.35 L627.35,78.55 L628.07,78.75 L628.80,78.95 L629.52,79.16 L630.25,79.37 L630.97,79.59 L631.70,79.81 L632.42,80.03 L633.15,80.26 L633.87,80.49 L634.60,80.73 L635.32,80.97 L636.05,81.21 L636.77,81.46 L637.50,81.71 L638.22,81.96 L638.95,82.22 L639.67,82.48 L640.40,82.75 L641.12,83.02 L641.85,83.29 L642.57,83.57 L643.30,83.85 L644.02,84.14 L644.75,84.43 L645.47,84.72 L646.20,85.02 L646.92,85.32 L647.65,85.63 L648.37,85.93 L649.10,86.25" stroke="#ff000e" stroke-width="3.4" fill="none" stroke-dasharray="6 1.5 12 1.5"/>
</g>
<rect x="76.5" y="293.8" width="189.7" height="119.4" fill="#fff" stroke="#262626" stroke-width="1.6"/>
<path d="M82.9,315.9 H132.8" stroke="#000" stroke-width="3.5"/>
<path d="M82.9,353.55 H132.8" stroke="#57d30c" stroke-width="3.5" stroke-dasharray="12 12"/>
<path d="M82.9,391.65 H132.8" stroke="#ff000e" stroke-width="3.6" stroke-dasharray="12 3 6 3"/>
<g font-family="Liberation Serif, serif" font-size="30.3px" fill="#000" stroke="#fff" stroke-width="0.2">
<text x="136.8" y="326.7">Reference</text>
<text x="136.8" y="364.4">LPV</text>
<text x="136.8" y="402.1">MPC</text>
</g>
</svg>
</body></html>
